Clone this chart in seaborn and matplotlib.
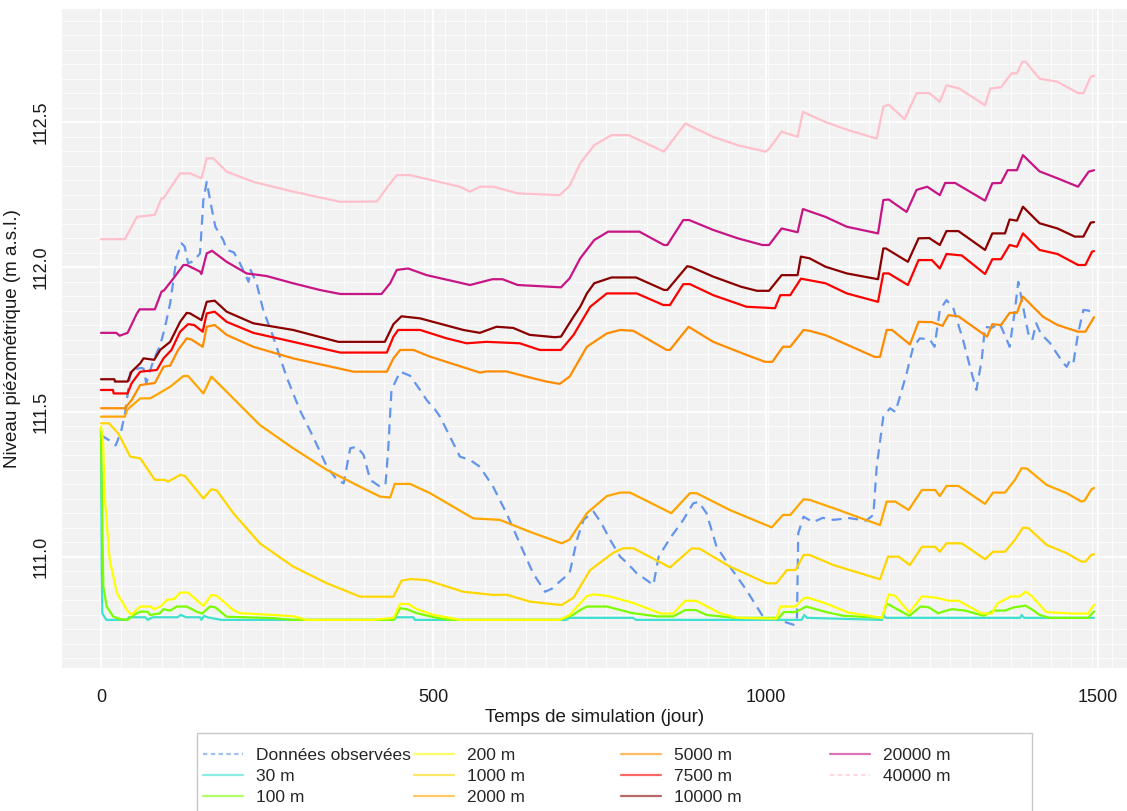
import matplotlib
matplotlib.use("Agg")
import numpy as np
import pandas as pd
import matplotlib.pyplot as plt
from matplotlib.lines import Line2D
from matplotlib.patches import Rectangle
from matplotlib.ticker import FixedLocator
import seaborn as sns

sns.set_theme(style="darkgrid")
plt.rcParams["font.family"] = ["Liberation Sans", "DejaVu Sans"]

# ---------------------------------------------------------------------------
# Piezometric level (m a.s.l.) against simulation time (day)
# ---------------------------------------------------------------------------
observed = [
    (0, 111.42), (14, 111.40), (22, 111.385), (30, 111.43), (36, 111.495), (41, 111.576),
    (44, 111.64), (59, 111.652), (64, 111.65), (68, 111.60), (79, 111.679), (89, 111.73),
    (96, 111.79), (104, 111.875), (114, 112.036), (121, 112.082), (126, 112.07), (131, 112.013),
    (139, 112.02), (149, 112.047), (154, 112.231), (159, 112.294), (166, 112.208), (172, 112.139),
    (184, 112.093), (189, 112.06), (200, 112.05), (209, 112.013), (222, 111.949), (225, 111.99),
    (234, 111.944), (244, 111.852), (259, 111.76), (279, 111.622), (299, 111.507), (319, 111.415),
    (340, 111.311), (355, 111.266), (365, 111.254), (375, 111.375), (385, 111.38), (395, 111.352),
    (405, 111.266), (420, 111.242), (428, 111.25), (432, 111.369), (437, 111.576), (450, 111.639),
    (465, 111.625), (480, 111.576), (490, 111.541), (502, 111.51), (510, 111.484), (520, 111.438),
    (540, 111.346), (555, 111.335), (570, 111.311), (590, 111.242), (610, 111.151), (630, 111.047),
    (650, 110.944), (668, 110.88), (678, 110.89), (690, 110.915), (705, 110.944), (716, 111.059),
    (726, 111.128), (741, 111.156), (752, 111.12), (766, 111.059), (781, 111.001), (791, 110.98),
    (806, 110.944), (821, 110.92), (831, 110.903), (839, 111.001), (856, 111.064), (876, 111.128),
    (891, 111.185), (899, 111.19), (911, 111.151), (926, 111.036), (946, 110.967), (971, 110.886),
    (996, 110.794), (1017, 110.783), (1030, 110.775), (1042, 110.766), (1047, 110.78), (1049, 111.082),
    (1057, 111.139), (1071, 111.12), (1086, 111.135), (1102, 111.128), (1126, 111.134), (1151, 111.125),
    (1162, 111.145), (1167, 111.311), (1177, 111.484), (1187, 111.513), (1195, 111.50), (1202, 111.553),
    (1212, 111.633), (1222, 111.725), (1232, 111.754), (1247, 111.75), (1254, 111.725), (1262, 111.852),
    (1272, 111.886), (1282, 111.86), (1297, 111.748), (1310, 111.633), (1317, 111.576), (1325, 111.679),
    (1330, 111.794), (1340, 111.79), (1352, 111.806), (1363, 111.748), (1367, 111.725), (1375, 111.852),
    (1380, 111.949), (1385, 111.89), (1395, 111.771), (1401, 111.748), (1407, 111.806), (1414, 111.77),
    (1428, 111.737), (1438, 111.702), (1448, 111.668), (1453, 111.656), (1458, 111.68), (1463, 111.67),
    (1470, 111.771), (1478, 111.852), (1485, 111.85), (1493, 111.844),
]

sim_30m = [
    (0, 111.44), (1, 110.95), (2, 110.806), (8, 110.783), (39, 110.783), (42, 110.792), (67, 110.792),
    (70, 110.783), (78, 110.792), (115, 110.792), (120, 110.80), (128, 110.792), (149, 110.792),
    (151, 110.783), (155, 110.797), (160, 110.792), (181, 110.783), (440, 110.783), (445, 110.792),
    (470, 110.792), (472, 110.783), (700, 110.783), (705, 110.79), (800, 110.79), (805, 110.783),
    (1054, 110.783), (1058, 110.80), (1062, 110.79), (1175, 110.783), (1177, 110.80), (1181, 110.79),
    (1383, 110.79), (1385, 110.80), (1389, 110.79), (1494, 110.79),
]

sim_100m = [
    (0, 111.44), (2, 111.1), (3.5, 110.898), (8.5, 110.829), (18.5, 110.794), (30, 110.785),
    (40, 110.783), (49, 110.80), (59, 110.811), (70, 110.811), (74, 110.80), (88, 110.805),
    (94, 110.82), (104, 110.815), (114, 110.829), (129, 110.829), (144, 110.811), (152, 110.805),
    (164, 110.829), (172, 110.826), (189, 110.794), (259, 110.789), (289, 110.783), (440, 110.783),
    (450, 110.823), (460, 110.82), (475, 110.806), (505, 110.79), (525, 110.783), (690, 110.783),
    (710, 110.80), (721, 110.817), (731, 110.829), (761, 110.829), (800, 110.806), (837, 110.795),
    (861, 110.795), (879, 110.817), (895, 110.817), (911, 110.80), (953, 110.79), (1020, 110.79),
    (1027, 110.81), (1045, 110.81), (1061, 110.829), (1091, 110.81), (1117, 110.797), (1175, 110.79),
    (1182, 110.84), (1200, 110.817), (1216, 110.797), (1233, 110.829), (1245, 110.827), (1259, 110.806),
    (1280, 110.82), (1300, 110.815), (1328, 110.797), (1343, 110.815), (1360, 110.815), (1373, 110.826),
    (1391, 110.832), (1400, 110.82), (1412, 110.80), (1427, 110.79), (1485, 110.79), (1494, 110.812),
]

sim_200m = [
    (0, 111.45), (3, 111.40), (6, 111.197), (13, 110.99), (24, 110.875), (39, 110.817), (46, 110.80),
    (50, 110.81), (59, 110.829), (74, 110.829), (80, 110.82), (90, 110.83), (99, 110.852),
    (110, 110.855), (119, 110.877), (131, 110.877), (154, 110.831), (166, 110.869), (174, 110.866),
    (199, 110.817), (209, 110.806), (259, 110.80), (290, 110.795), (309, 110.783), (410, 110.783),
    (440, 110.79), (450, 110.838), (462, 110.838), (475, 110.82), (500, 110.80), (525, 110.79),
    (540, 110.783), (690, 110.783), (705, 110.80), (721, 110.84), (731, 110.865), (742, 110.871),
    (763, 110.865), (800, 110.842), (842, 110.805), (861, 110.805), (879, 110.849), (895, 110.849),
    (932, 110.805), (958, 110.79), (1016, 110.787), (1022, 110.829), (1045, 110.829), (1057, 110.857),
    (1063, 110.86), (1090, 110.84), (1125, 110.808), (1175, 110.79), (1185, 110.871), (1195, 110.866),
    (1216, 110.808), (1235, 110.864), (1255, 110.86), (1275, 110.849), (1290, 110.849), (1325, 110.805),
    (1340, 110.805), (1349, 110.84), (1369, 110.864), (1382, 110.864), (1391, 110.88), (1400, 110.866),
    (1422, 110.81), (1460, 110.805), (1485, 110.805), (1494, 110.835),
]

sim_1000m = [
    (0, 111.461), (12, 111.461), (26, 111.426), (44, 111.346), (59, 111.34), (81, 111.266),
    (96, 111.266), (101, 111.26), (119, 111.283), (126, 111.28), (154, 111.202), (166, 111.233),
    (174, 111.23), (199, 111.151), (239, 111.047), (289, 110.967), (340, 110.909), (390, 110.863),
    (440, 110.863), (452, 110.918), (466, 110.924), (490, 110.92), (545, 110.88), (590, 110.869),
    (610, 110.87), (645, 110.846), (693, 110.834), (711, 110.86), (736, 110.955), (771, 111.015),
    (786, 111.03), (801, 111.03), (856, 110.964), (889, 111.03), (901, 111.028), (946, 110.967),
    (1002, 110.909), (1016, 110.909), (1032, 110.955), (1045, 110.955), (1057, 111.007),
    (1066, 111.007), (1102, 110.972), (1172, 110.923), (1184, 111.001), (1200, 111.001),
    (1217, 110.972), (1235, 111.035), (1255, 111.035), (1262, 111.018), (1272, 111.047),
    (1295, 111.047), (1330, 110.992), (1342, 111.018), (1360, 111.018), (1375, 111.059),
    (1387, 111.101), (1395, 111.10), (1423, 111.041), (1453, 111.013), (1475, 110.984),
    (1481, 110.984), (1490, 111.007), (1494, 111.01),
]

sim_2000m = [
    (0, 111.484), (36, 111.484), (39, 111.507), (59, 111.547), (74, 111.547), (84, 111.56),
    (104, 111.587), (124, 111.624), (131, 111.624), (154, 111.564), (166, 111.622), (189, 111.57),
    (239, 111.455), (289, 111.375), (340, 111.3), (390, 111.242), (420, 111.208), (435, 111.205),
    (442, 111.252), (465, 111.252), (495, 111.22), (560, 111.133), (600, 111.128), (645, 111.087),
    (693, 111.047), (705, 111.06), (731, 111.151), (761, 111.21), (781, 111.222), (796, 111.222),
    (858, 111.151), (886, 111.22), (896, 111.22), (946, 111.162), (1009, 111.102), (1026, 111.145),
    (1037, 111.145), (1057, 111.199), (1066, 111.197), (1100, 111.17), (1172, 111.11), (1182, 111.191),
    (1195, 111.191), (1215, 111.162), (1235, 111.231), (1255, 111.231), (1262, 111.21), (1272, 111.245),
    (1290, 111.245), (1330, 111.183), (1342, 111.222), (1360, 111.222), (1375, 111.266), (1385, 111.306),
    (1393, 111.305), (1423, 111.248), (1453, 111.22), (1475, 111.191), (1480, 111.195), (1490, 111.233),
    (1494, 111.238),
]

sim_5000m = [
    (0, 111.513), (36, 111.513), (46, 111.541), (59, 111.593), (81, 111.6), (94, 111.656),
    (104, 111.66), (116, 111.714), (129, 111.754), (136, 111.75), (153, 111.725), (159, 111.794),
    (171, 111.8), (189, 111.766), (229, 111.725), (289, 111.685), (380, 111.639), (430, 111.639),
    (440, 111.685), (450, 111.714), (470, 111.714), (495, 111.691), (570, 111.636), (580, 111.64),
    (610, 111.64), (640, 111.622), (670, 111.605), (690, 111.597), (705, 111.622), (731, 111.725),
    (761, 111.771), (781, 111.783), (801, 111.78), (851, 111.714), (856, 111.714), (884, 111.794),
    (921, 111.742), (971, 111.697), (999, 111.673), (1010, 111.673), (1026, 111.725), (1037, 111.725),
    (1057, 111.783), (1066, 111.78), (1090, 111.765), (1164, 111.69), (1172, 111.69), (1182, 111.783),
    (1190, 111.783), (1217, 111.733), (1230, 111.811), (1250, 111.81), (1266, 111.797), (1275, 111.834),
    (1290, 111.83), (1333, 111.76), (1341, 111.803), (1354, 111.80), (1367, 111.842), (1378, 111.842),
    (1387, 111.898), (1417, 111.829), (1439, 111.80), (1470, 111.777), (1481, 111.777), (1494, 111.827),
]

sim_7500m = [
    (0, 111.576), (18, 111.576), (19, 111.564), (40, 111.564), (46, 111.599), (59, 111.639),
    (84, 111.645), (94, 111.685), (106, 111.714), (119, 111.777), (131, 111.803), (140, 111.80),
    (153, 111.777), (159, 111.84), (171, 111.846), (189, 111.811), (229, 111.773), (289, 111.742),
    (360, 111.705), (430, 111.705), (440, 111.76), (447, 111.783), (480, 111.783), (520, 111.754),
    (550, 111.737), (580, 111.742), (630, 111.737), (660, 111.714), (692, 111.714), (711, 111.766),
    (736, 111.863), (761, 111.909), (806, 111.909), (846, 111.869), (856, 111.869), (876, 111.941),
    (886, 111.941), (921, 111.903), (971, 111.863), (1014, 111.858), (1022, 111.903), (1037, 111.903),
    (1053, 111.96), (1090, 111.944), (1122, 111.909), (1169, 111.88), (1177, 111.978), (1185, 111.978),
    (1214, 111.938), (1230, 112.024), (1250, 112.024), (1262, 111.995), (1272, 112.045), (1295, 112.04),
    (1330, 111.976), (1341, 112.027), (1354, 112.027), (1367, 112.076), (1378, 112.07), (1387, 112.116),
    (1412, 112.059), (1439, 112.045), (1470, 112.007), (1481, 112.007), (1491, 112.053), (1494, 112.055),
]

sim_10000m = [
    (0, 111.613), (20, 111.613), (21, 111.605), (40, 111.605), (46, 111.639), (59, 111.668),
    (64, 111.685), (80, 111.68), (89, 111.714), (104, 111.742), (119, 111.811), (129, 111.842),
    (134, 111.84), (151, 111.817), (159, 111.88), (171, 111.884), (189, 111.846), (229, 111.806),
    (289, 111.783), (357, 111.742), (427, 111.742), (440, 111.803), (452, 111.83), (480, 111.823),
    (545, 111.783), (570, 111.773), (595, 111.794), (620, 111.79), (645, 111.766), (683, 111.758),
    (692, 111.76), (711, 111.829), (721, 111.863), (731, 111.909), (742, 111.944), (768, 111.964),
    (805, 111.964), (847, 111.921), (852, 111.921), (882, 112.003), (888, 112.0), (921, 111.967),
    (963, 111.932), (987, 111.918), (1005, 111.918), (1024, 111.972), (1048, 111.972), (1053, 112.036),
    (1066, 112.03), (1090, 112.001), (1122, 111.978), (1169, 111.958), (1177, 112.064), (1181, 112.064),
    (1214, 112.018), (1230, 112.099), (1246, 112.1), (1262, 112.076), (1272, 112.124), (1290, 112.124),
    (1330, 112.059), (1341, 112.116), (1360, 112.116), (1367, 112.164), (1378, 112.16), (1387, 112.208),
    (1412, 112.151), (1439, 112.133), (1465, 112.105), (1478, 112.105), (1489, 112.153), (1494, 112.155),
]

sim_20000m = [
    (0, 111.773), (23, 111.773), (28, 111.763), (40, 111.773), (54, 111.84), (58, 111.854),
    (81, 111.854), (91, 111.915), (95, 111.92), (109, 111.961), (124, 112.007), (129, 112.007),
    (149, 111.984), (151, 111.976), (159, 112.047), (167, 112.056), (189, 112.018), (219, 111.978),
    (249, 111.969), (289, 111.944), (329, 111.921), (360, 111.907), (422, 111.907), (435, 111.944),
    (445, 111.99), (462, 111.995), (490, 111.972), (540, 111.946), (555, 111.938), (589, 111.958),
    (604, 111.958), (627, 111.938), (692, 111.93), (705, 111.961), (721, 112.03), (742, 112.093),
    (763, 112.122), (810, 112.122), (847, 112.076), (852, 112.076), (876, 112.162), (885, 112.162),
    (921, 112.128), (958, 112.099), (995, 112.076), (1005, 112.076), (1024, 112.133), (1048, 112.12),
    (1056, 112.2), (1090, 112.173), (1122, 112.139), (1169, 112.116), (1177, 112.231), (1185, 112.233),
    (1212, 112.19), (1227, 112.266), (1243, 112.277), (1262, 112.248), (1270, 112.29), (1285, 112.29),
    (1330, 112.229), (1341, 112.289), (1354, 112.29), (1364, 112.334), (1378, 112.334), (1387, 112.386),
    (1412, 112.33), (1439, 112.306), (1470, 112.277), (1486, 112.329), (1494, 112.334),
]

sim_40000m = [
    (0, 112.096), (36, 112.096), (54, 112.173), (81, 112.18), (91, 112.237), (94, 112.237),
    (119, 112.323), (134, 112.323), (151, 112.306), (159, 112.375), (169, 112.375), (189, 112.329),
    (229, 112.294), (289, 112.26), (360, 112.225), (415, 112.226), (432, 112.28), (445, 112.317),
    (465, 112.317), (540, 112.277), (555, 112.26), (570, 112.277), (591, 112.277), (627, 112.254),
    (690, 112.248), (705, 112.28), (721, 112.358), (742, 112.42), (768, 112.455), (794, 112.455),
    (847, 112.398), (879, 112.495), (921, 112.449), (958, 112.42), (1000, 112.398), (1006, 112.41),
    (1024, 112.467), (1048, 112.449), (1056, 112.535), (1090, 112.5), (1127, 112.47), (1167, 112.443),
    (1177, 112.553), (1185, 112.56), (1209, 112.51), (1227, 112.6), (1246, 112.6), (1262, 112.57),
    (1272, 112.627), (1291, 112.616), (1330, 112.558), (1338, 112.616), (1354, 112.62), (1370, 112.668),
    (1378, 112.668), (1386, 112.708), (1391, 112.708), (1412, 112.65), (1439, 112.639), (1470, 112.6),
    (1478, 112.6), (1489, 112.656), (1494, 112.66),
]

series_labels = ["Données observées", "30 m", "100 m", "200 m", "1000 m", "2000 m",
                 "5000 m", "7500 m", "10000 m", "20000 m", "40000 m"]
series_data = [observed, sim_30m, sim_100m, sim_200m, sim_1000m, sim_2000m,
               sim_5000m, sim_7500m, sim_10000m, sim_20000m, sim_40000m]
series_colors = ["#6495ED", "#40E0D0", "#7CFC00", "#FFFF00", "#FFD700", "#FFA500",
                 "#FF8C00", "#FF0000", "#8B0000", "#C71585", "#FFC0CB"]

x_ticks = [0, 500, 1000, 1500]
y_ticks = [111.0, 111.5, 112.0, 112.5]

# ---------------------------------------------------------------------------
W, H = 1127, 811
fig = plt.figure(figsize=(W / 100, H / 100), dpi=100)
fig.patch.set_facecolor("white")
ax = fig.add_axes([62 / W, 1 - 668 / H, (W - 62) / W, (668 - 9) / H])
ax.set_facecolor("#F2F2F2")

frames = []
for label, pts in zip(series_labels, series_data):
    d = pd.DataFrame(pts, columns=["jour", "niveau"])
    d["serie"] = label
    frames.append(d)
long_df = pd.concat(frames, ignore_index=True)

for label, color in zip(series_labels, series_colors):
    sub = long_df[long_df["serie"] == label]
    kw = {}
    if label == "Données observées":
        kw["linestyle"] = (0, (4.5, 3.0))
    sns.lineplot(data=sub, x="jour", y="niveau", color=color, linewidth=1.6,
                 sort=False, estimator=None, ax=ax, legend=False, **kw)

ax.set_xlim(-58.7, 1543.6)
ax.set_ylim(110.617, 112.890)

# grid: monthly / 0.05 m minor lines, major lines on ticks
ax.xaxis.set_major_locator(FixedLocator(x_ticks))
ax.yaxis.set_major_locator(FixedLocator(y_ticks))
ax.xaxis.set_minor_locator(FixedLocator(np.arange(0, 1560, 365 / 12)))
ax.yaxis.set_minor_locator(FixedLocator(np.arange(110.65, 112.9, 0.05)))
ax.grid(which="major", color="white", linewidth=1.3)
ax.grid(which="minor", color="white", linewidth=0.6)
ax.set_axisbelow(True)
for s in ax.spines.values():
    s.set_visible(False)

ax.tick_params(axis="both", which="major", length=5, width=0.8, color="#B3B3B3",
               labelsize=13, labelcolor="#1A1A1A", pad=4)
ax.tick_params(axis="both", which="minor", length=0)
ax.set_xticklabels([str(v) for v in x_ticks])
ax.set_yticklabels([f"{v:.1f}" for v in y_ticks], rotation=90, va="center")
ax.tick_params(axis="x", pad=10)

ax.set_xlabel("Temps de simulation (jour)", fontsize=13.5, color="#1A1A1A", labelpad=2)
ax.set_ylabel("Niveau piézométrique (m a.s.l.)", fontsize=13.5, color="#1A1A1A", labelpad=8)

# legend: boxed, four columns below the panel
fig.patches.append(Rectangle((197 / W, -0.02), (1032 - 197) / W, 0.02 + 1 - 733 / H,
                             transform=fig.transFigure, facecolor="white",
                             edgecolor="#C8C8C8", linewidth=1.0, zorder=1))
handles = []
for label, color in zip(series_labels, series_colors):
    ls = (0, (2.0, 1.5)) if label in ("Données observées", "40000 m") else "-"
    handles.append(Line2D([], [], color=color, linewidth=1.6, alpha=0.6, linestyle=ls))

col_x = [203, 414, 621, 830]
groups = [(0, 3), (3, 6), (6, 9), (9, 11)]
for cx, (a, b) in zip(col_x, groups):
    fig.legend(handles[a:b], series_labels[a:b], loc="upper left",
               bbox_to_anchor=(cx / W, 1 - 748 / H), frameon=False,
               fontsize=12.5, borderpad=0, borderaxespad=0, handlelength=2.3,
               handletextpad=0.75, labelspacing=0.33)

fig.savefig("out.png", dpi=100)
